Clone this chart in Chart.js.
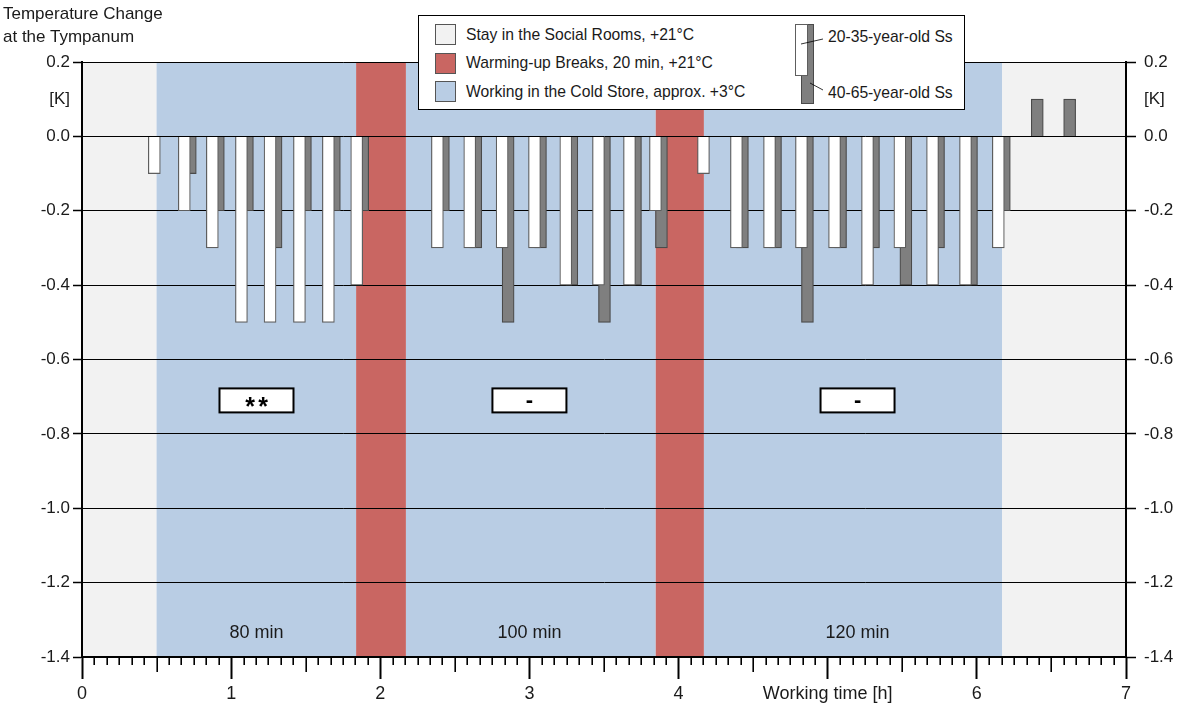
<!DOCTYPE html>
<html>
<head>
<meta charset="utf-8">
<script src="https://cdn.jsdelivr.net/npm/chart.js@4.4.1/dist/chart.umd.min.js"></script>
<style>
html,body{margin:0;padding:0;background:#fff;}
#wrap{position:relative;width:1185px;height:711px;font-family:'Liberation Sans',Arial,sans-serif;color:#1a1a1a;overflow:hidden;}
#c{position:absolute;left:0;top:0;}
#title{position:absolute;left:3px;top:2px;font-size:17px;line-height:23px;white-space:nowrap;}
#legend{position:absolute;left:418px;top:15px;width:545px;height:93px;border:1px solid #000;background:#fff;font-size:15.7px;}
.sw{position:absolute;left:16px;width:21px;height:21px;border:1px solid #555;box-sizing:border-box;}
.lt{position:absolute;white-space:nowrap;line-height:18px;}
#legsvg{position:absolute;left:0;top:0;}
</style>
</head>
<body>
<div id="wrap">
<canvas id="c" width="1185" height="711"></canvas>
<div id="title">Temperature Change<br>at the Tympanum</div>
<div id="legend">
  <div class="sw" style="top:8px;background:#f2f2f2"></div>
  <div class="lt" style="left:47px;top:10px">Stay in the Social Rooms, +21°C</div>
  <div class="sw" style="top:37px;background:#c96662"></div>
  <div class="lt" style="left:47px;top:38px">Warming-up Breaks, 20 min, +21°C</div>
  <div class="sw" style="top:65px;background:#b9cde4"></div>
  <div class="lt" style="left:47px;top:67px">Working in the Cold Store, approx. +3°C</div>
  <svg id="legsvg" width="545" height="93">
    <rect x="382.5" y="8.5" width="12" height="79" fill="#7f7f7f" stroke="#4a4a4a" stroke-width="1"/>
    <rect x="376.5" y="8.5" width="12" height="51" fill="#ffffff" stroke="#5e5e5e" stroke-width="1"/>
    <line x1="382" y1="28" x2="404" y2="23" stroke="#000" stroke-width="0.8"/>
    <line x1="391" y1="67" x2="404" y2="74" stroke="#000" stroke-width="0.8"/>
  </svg>
  <div class="lt" style="left:409px;top:12px">20-35-year-old Ss</div>
  <div class="lt" style="left:409px;top:68px">40-65-year-old Ss</div>
</div>
</div>
<script>
// ---- data ----
const times = [0.505, 0.706, 0.894, 1.089, 1.281, 1.478, 1.672, 1.862,
               2.403, 2.620, 2.837, 3.054, 3.264, 3.483, 3.691, 3.865, 4.187,
               4.408, 4.630, 4.844, 5.066, 5.287, 5.504, 5.723, 5.944, 6.164,
               6.385, 6.602];
const young = [-0.1, -0.2, -0.3, -0.5, -0.5, -0.5, -0.5, -0.4,
               -0.3, -0.3, -0.3, -0.3, -0.4, -0.4, -0.4, -0.2, -0.1,
               -0.3, -0.3, -0.3, -0.3, -0.4, -0.3, -0.4, -0.4, -0.3,
               null, null];
const old   = [null, -0.1, -0.2, -0.2, -0.3, -0.2, -0.2, -0.2,
               -0.2, -0.3, -0.5, -0.3, -0.4, -0.5, -0.4, -0.3, null,
               -0.3, -0.3, -0.5, -0.3, -0.3, -0.4, -0.3, -0.4, -0.2,
               0.1, 0.1];
const phaseStart = [0, 0.5, 1.838, 2.172, 3.847, 4.170, 6.170];
const phaseEnd   = [0.5, 1.838, 2.172, 3.847, 4.170, 6.170, 7];
const phaseType  = ['social', 'cold', 'break', 'cold', 'break', 'cold', 'social'];
const durationLabels = ['80 min', '100 min', '120 min'];
const significance = ['**', '-', '-'];
const xTickValues = [0, 1, 2, 3, 4, 5, 6, 7];
const xTickLabels = ['0', '1', '2', '3', '4', 'Working time [h]', '6', '7'];
const yTickValues = [0.2, 0.1, 0, -0.2, -0.4, -0.6, -0.8, -1.0, -1.2, -1.4];
const yTickLabels = ['0.2', '[K]', '0.0', '-0.2', '-0.4', '-0.6', '-0.8', '-1.0', '-1.2', '-1.4'];

// ---- annotation anchors (data units) ----
const noteX = [1.17, 3.0, 5.2];
const sigY = -0.71;
const durY = -1.335;

const phaseColors = {social: '#f2f2f2', cold: '#b9cde4', break: '#c96662'};
const FONT = "'Liberation Sans', Arial, sans-serif";
Chart.defaults.font.family = FONT;
Chart.defaults.font.size = 17;
Chart.defaults.color = '#1a1a1a';

const isK = v => Math.abs(v - 0.1) < 1e-6;

const deco = {
  id: 'deco',
  beforeDraw(chart) {
    const {ctx, chartArea: a, scales: {x}} = chart;
    ctx.save();
    for (let i = 0; i < phaseStart.length; i++) {
      const x0 = x.getPixelForValue(phaseStart[i]);
      const x1 = x.getPixelForValue(phaseEnd[i]);
      ctx.fillStyle = phaseColors[phaseType[i]];
      ctx.fillRect(x0, a.top, x1 - x0, a.bottom - a.top);
    }
    ctx.restore();
  },
  afterDatasetsDraw(chart) {
    const {ctx, scales: {x, y}} = chart;
    ctx.save();
    for (let i = 0; i < noteX.length; i++) {
      const px = x.getPixelForValue(noteX[i]);
      const py = y.getPixelForValue(sigY);
      ctx.fillStyle = '#fff';
      ctx.fillRect(px - 37, py - 12, 74, 24);
      ctx.lineWidth = 2;
      ctx.strokeStyle = '#000';
      ctx.strokeRect(px - 37, py - 12, 74, 24);
      ctx.fillStyle = '#000';
      ctx.textAlign = 'center';
      ctx.textBaseline = 'alphabetic';
      ctx.font = 'bold 25px ' + FONT;
      if (significance[i] === '**') {
        ctx.fillText('*', px - 6.5, py + 15);
        ctx.fillText('*', px + 6.5, py + 15);
      } else {
        ctx.font = 'bold 22px ' + FONT;
        ctx.fillText(significance[i], px, py + 7);
      }
      ctx.font = '18px ' + FONT;
      ctx.fillStyle = '#1a1a1a';
      ctx.textBaseline = 'middle';
      ctx.fillText(durationLabels[i], px, y.getPixelForValue(durY));
    }
    ctx.restore();
  },
  afterDraw(chart) {
    const {ctx, chartArea: a, scales: {x}} = chart;
    ctx.save();
    ctx.strokeStyle = '#000';
    ctx.lineWidth = 1.6;
    for (let k = 1; k < 84; k++) {
      if (k % 12 === 0) continue;
      const px = Math.round(x.getPixelForValue(k / 12)) + 0.2;
      const len = (k % 6 === 0) ? 15 : 8;
      ctx.beginPath();
      ctx.moveTo(px, a.bottom);
      ctx.lineTo(px, a.bottom + len);
      ctx.stroke();
    }
    ctx.restore();
  }
};

new Chart(document.getElementById('c'), {
  type: 'bar',
  data: {
    datasets: [
      {
        label: '20-35-year-old Ss',
        data: times.map((t, i) => ({x: t, y: young[i]})),
        xAxisID: 'xw', yAxisID: 'y',
        backgroundColor: '#ffffff', borderColor: '#5e5e5e', borderWidth: 1.2,
        barThickness: 12, grouped: false, order: 0
      },
      {
        label: '40-65-year-old Ss',
        data: times.map((t, i) => ({x: t, y: old[i]})),
        xAxisID: 'xg', yAxisID: 'y',
        backgroundColor: '#7f7f7f', borderColor: '#4a4a4a', borderWidth: 1.2,
        barThickness: 12, grouped: false, order: 1
      }
    ]
  },
  options: {
    responsive: false, animation: false, devicePixelRatio: 1,
    layout: {padding: {top: 62, left: 0, right: 0, bottom: 0}},
    plugins: {legend: {display: false}, tooltip: {enabled: false}},
    scales: {
      x: {
        type: 'linear', position: 'bottom', min: 0, max: 7, offset: false,
        afterBuildTicks: ax => { ax.ticks = xTickValues.map(v => ({value: v})); },
        afterFit: ax => { ax.height = 54; },
        ticks: {autoSkip: false, maxRotation: 0, padding: 4, color: '#1a1a1a', font: {size: 18},
                callback: (v, i) => xTickLabels[i]},
        grid: {drawOnChartArea: false, offset: false, tickLength: 22, tickWidth: 2, tickColor: '#000'},
        border: {display: true, color: '#000', width: 2}
      },
      xw: {type: 'linear', display: false, min: 0.0201, max: 7.0201, offset: false, grid: {offset: false}},
      xg: {type: 'linear', display: false, min: -0.0201, max: 6.9799, offset: false, grid: {offset: false}},
      y: {
        type: 'linear', position: 'left', min: -1.4, max: 0.2,
        afterBuildTicks: ax => { ax.ticks = yTickValues.map(v => ({value: v})); },
        afterFit: ax => { ax.width = 82; },
        ticks: {autoSkip: false, padding: 3, color: '#1a1a1a',
                callback: (v, i) => yTickLabels[i]},
        grid: {
          color: c => (c.tick && isK(c.tick.value)) ? 'rgba(0,0,0,0)' : '#000',
          tickColor: c => (c.tick && isK(c.tick.value)) ? 'rgba(0,0,0,0)' : '#000',
          lineWidth: 1, tickLength: 9, tickWidth: 1.5
        },
        border: {display: true, color: '#000', width: 2}
      },
      y2: {
        type: 'linear', position: 'right', min: -1.4, max: 0.2,
        afterBuildTicks: ax => { ax.ticks = yTickValues.map(v => ({value: v})); },
        afterFit: ax => { ax.width = 59; },
        ticks: {autoSkip: false, padding: 8, color: '#1a1a1a',
                callback: (v, i) => yTickLabels[i]},
        grid: {
          drawOnChartArea: false,
          tickColor: c => (c.tick && isK(c.tick.value)) ? 'rgba(0,0,0,0)' : '#000',
          tickLength: 10, tickWidth: 1.5
        },
        border: {display: true, color: '#000', width: 2}
      }
    }
  },
  plugins: [deco]
});
</script>
</body>
</html>
